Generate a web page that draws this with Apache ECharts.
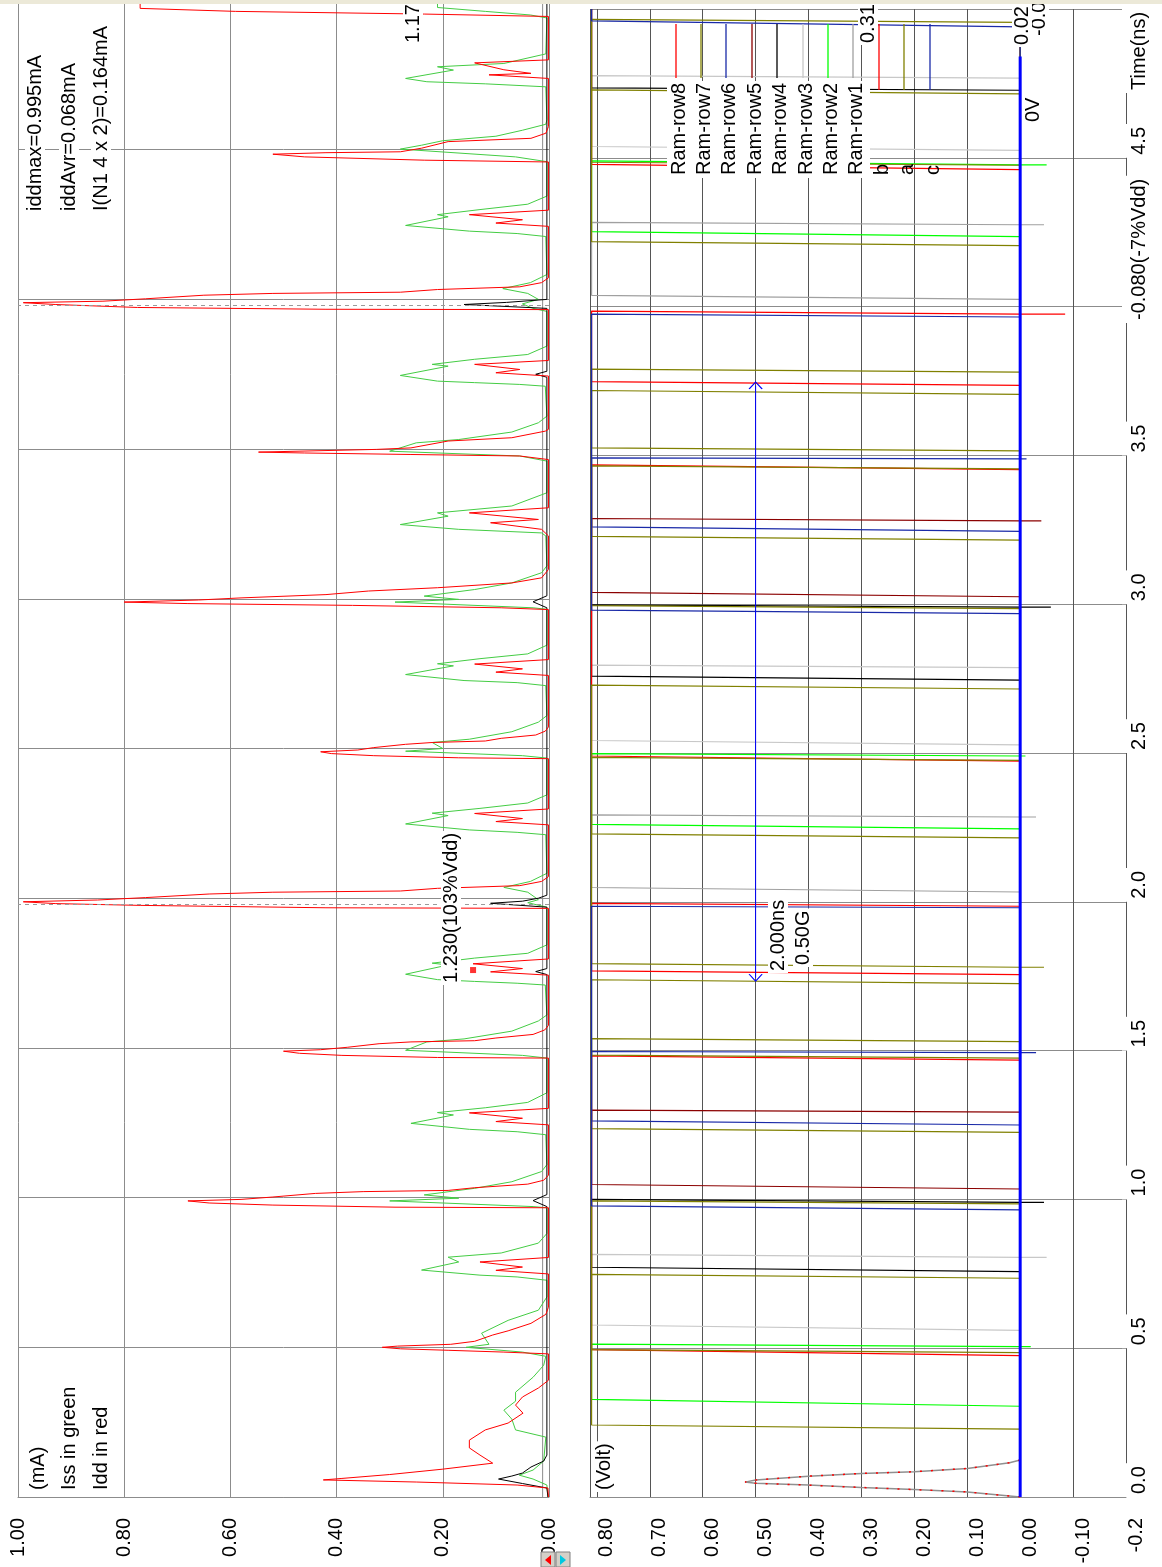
<!DOCTYPE html>
<html><head><meta charset="utf-8">
<script src="https://cdn.jsdelivr.net/npm/echarts@6/dist/echarts.min.js"></script>
<style>html,body{margin:0;padding:0;background:#fff}#c{width:1162px;height:1567px}</style>
</head><body><div id="c"></div>
<script>
// ================= DATA =================
const T_END = 5.0;
// current axis (mA)
const currentTicks = [0, 0.2, 0.4, 0.6, 0.8, 1.0];
const currentTickLabels = ['0.00', '0.20', '0.40', '0.60', '0.80', '1.00'];
// voltage axis (V)
const voltTicks = [-0.2, -0.1, 0, 0.1, 0.2, 0.3, 0.4, 0.5, 0.6, 0.7, 0.8];
const voltTickLabels = ['-0.2', '-0.10', '0.00', '0.10', '0.20', '0.30', '0.40', '0.50', '0.60', '0.70', '0.80'];
// time axis (ns)
const timeTicks = [0, 0.5, 1, 1.5, 2, 2.5, 3, 3.5, 4, 4.5];
const timeTickLabels = ['0.0', '0.5', '1.0', '1.5', '2.0', '2.5', '3.0', '3.5', '', '4.5'];

// Idd (red) [t ns, mA]
const idd = [
 [0,0.001],[0.03,0.002],[0.04,0.06],[0.05,0.25],[0.057,0.425],[0.062,0.39],[0.075,0.3],[0.093,0.2],[0.113,0.106],[0.14,0.13],[0.164,0.15],[0.19,0.15],[0.224,0.12],[0.247,0.077],[0.28,0.049],[0.307,0.063],[0.334,0.05],[0.364,0.02],[0.39,0.001],
 [0.478,0.001],[0.484,0.085],[0.49,0.19],[0.495,0.28],[0.5,0.314],[0.504,0.285],[0.51,0.185],[0.52,0.14],[0.541,0.106],[0.555,0.077],[0.58,0.034],[0.61,0.006],[0.634,0.001],
 [0.745,0.001],[0.757,0.1],[0.768,0.05],[0.785,0.13],[0.8,0.001],
 [0.966,0.001],[0.968,0.29],[0.975,0.52],[0.982,0.64],[0.989,0.68],[0.994,0.58],[1.002,0.52],[1.014,0.44],[1.02,0.35],[1.024,0.19],[1.033,0.14],[1.045,0.04],[1.058,0.01],[1.075,0.001],
 [1.243,0.001],[1.254,0.1],[1.265,0.05],[1.283,0.15],[1.298,0.001],
 [1.466,0.001],[1.468,0.21],[1.475,0.39],[1.482,0.47],[1.489,0.5],[1.494,0.43],[1.502,0.38],[1.514,0.32],[1.52,0.26],[1.524,0.14],[1.533,0.1],[1.545,0.03],[1.56,0.008],[1.575,0.001],
 [1.743,0.001],[1.754,0.11],[1.765,0.05],[1.781,0.143],[1.797,0.001],
 [1.966,0.001],[1.968,0.42],[1.976,0.77],[1.982,0.93],[1.988,0.99],[1.994,0.85],[2.002,0.76],[2.014,0.64],[2.02,0.52],[2.024,0.28],[2.033,0.21],[2.042,0.055],[2.056,0.014],[2.072,0.001],
 [2.245,0.001],[2.256,0.1],[2.266,0.05],[2.283,0.14],[2.298,0.001],
 [2.466,0.001],[2.469,0.17],[2.476,0.33],[2.483,0.41],[2.489,0.43],[2.495,0.36],[2.503,0.33],[2.514,0.27],[2.52,0.22],[2.525,0.12],[2.534,0.09],[2.545,0.025],[2.558,0.007],[2.572,0.001],
 [2.744,0.001],[2.755,0.1],[2.766,0.05],[2.782,0.14],[2.797,0.001],
 [2.964,0.001],[2.97,0.09],[2.978,0.37],[2.984,0.68],[2.989,0.8],[2.996,0.66],[3.003,0.58],[3.014,0.42],[3.026,0.34],[3.037,0.21],[3.053,0.07],[3.07,0.014],[3.098,0.001],
 [3.21,0.001],[3.232,0.014],[3.254,0.11],[3.265,0.02],[3.287,0.15],[3.304,0.001],
 [3.465,0.001],[3.477,0.055],[3.482,0.26],[3.487,0.46],[3.49,0.547],[3.499,0.325],[3.504,0.26],[3.527,0.19],[3.538,0.07],[3.56,0.007],[3.566,0.001],
 [3.744,0.001],[3.755,0.1],[3.766,0.055],[3.783,0.14],[3.796,0.001],
 [3.966,0.001],[3.967,0.42],[3.973,0.775],[3.983,0.93],[3.989,0.99],[3.994,0.84],[4.002,0.76],[4.014,0.65],[4.02,0.52],[4.024,0.28],[4.033,0.21],[4.042,0.055],[4.056,0.014],[4.072,0.001],
 [4.244,0.001],[4.255,0.1],[4.266,0.05],[4.283,0.15],[4.298,0.001],
 [4.459,0.001],[4.465,0.235],[4.476,0.46],[4.485,0.52],[4.49,0.42],[4.493,0.28],[4.505,0.24],[4.527,0.19],[4.538,0.034],[4.555,0.006],[4.577,0.001],
 [4.738,0.001],[4.75,0.113],[4.755,0.034],[4.767,0.085],[4.79,0.14],[4.8,0.001],
 [4.945,0.001],[4.953,0.235],[4.962,0.59],[4.972,0.77],[5.0,0.77]
];
// Iss (green) [t ns, mA]
const iss = [
 [0,0.002],[0.04,0.004],[0.06,0.03],[0.073,0.056],[0.09,0.03],[0.12,0.01],[0.2,0.006],[0.224,0.063],[0.26,0.07],[0.29,0.085],[0.32,0.063],[0.35,0.063],[0.4,0.03],[0.44,0.01],[0.47,0.006],
 [0.484,0.05],[0.5,0.156],[0.51,0.113],[0.547,0.127],[0.59,0.077],[0.624,0.02],[0.668,0.004],
 [0.724,0.004],[0.735,0.06],[0.741,0.13],[0.758,0.24],[0.785,0.17],[0.801,0.19],[0.815,0.09],[0.848,0.02],[0.88,0.004],
 [0.966,0.004],[0.97,0.03],[0.989,0.3],[0.998,0.17],[1.009,0.235],[1.031,0.14],[1.053,0.07],[1.087,0.014],[1.11,0.004],
 [1.21,0.006],[1.22,0.06],[1.228,0.15],[1.248,0.26],[1.276,0.18],[1.284,0.21],[1.3,0.12],[1.318,0.04],[1.35,0.004],
 [1.466,0.004],[1.475,0.05],[1.492,0.27],[1.52,0.23],[1.53,0.16],[1.556,0.07],[1.59,0.02],[1.61,0.004],
 [1.71,0.007],[1.716,0.06],[1.722,0.14],[1.728,0.21],[1.746,0.27],[1.777,0.19],[1.783,0.22],[1.8,0.14],[1.816,0.04],[1.844,0.004],
 [1.97,0.004],[1.985,0.04],[1.995,0.02],[2.0,0.02],[2.02,0.04],[2.036,0.085],[2.056,0.035],[2.083,0.004],
 [2.212,0.006],[2.22,0.06],[2.228,0.15],[2.248,0.27],[2.276,0.19],[2.284,0.22],[2.3,0.13],[2.318,0.04],[2.345,0.004],
 [2.468,0.004],[2.476,0.05],[2.491,0.27],[2.5,0.2],[2.52,0.22],[2.531,0.15],[2.556,0.07],[2.588,0.02],[2.61,0.004],
 [2.71,0.006],[2.72,0.06],[2.727,0.16],[2.747,0.27],[2.776,0.18],[2.783,0.21],[2.8,0.13],[2.816,0.04],[2.845,0.004],
 [2.965,0.004],[2.97,0.03],[2.989,0.29],[2.998,0.17],[3.009,0.235],[3.031,0.14],[3.053,0.07],[3.087,0.014],[3.11,0.004],
 [3.21,0.006],[3.22,0.014],[3.232,0.17],[3.248,0.28],[3.276,0.19],[3.287,0.21],[3.31,0.07],[3.354,0.004],
 [3.46,0.004],[3.477,0.055],[3.493,0.3],[3.521,0.25],[3.532,0.17],[3.557,0.07],[3.588,0.02],[3.61,0.004],
 [3.71,0.007],[3.716,0.055],[3.722,0.14],[3.727,0.21],[3.746,0.28],[3.777,0.19],[3.783,0.22],[3.8,0.14],[3.816,0.04],[3.844,0.004],
 [3.96,0.004],[3.97,0.03],[3.985,0.05],[4.0,0.02],[4.02,0.04],[4.036,0.087],[4.056,0.035],[4.083,0.004],
 [4.21,0.006],[4.22,0.06],[4.228,0.15],[4.247,0.27],[4.276,0.19],[4.283,0.21],[4.3,0.13],[4.318,0.04],[4.345,0.004],
 [4.46,0.004],[4.476,0.063],[4.502,0.28],[4.515,0.24],[4.53,0.2],[4.545,0.1],[4.565,0.05],[4.585,0.006],[4.6,0.004],
 [4.71,0.006],[4.72,0.12],[4.727,0.23],[4.738,0.27],[4.766,0.18],[4.777,0.21],[4.788,0.085],[4.82,0.006],
 [4.94,0.004],[4.95,0.035],[4.962,0.12],[4.975,0.21],[5.0,0.21]
];
// third current trace (black) [t ns, mA]
const iblk = [
 [0,0.002],[0.03,0.004],[0.045,0.05],[0.06,0.095],[0.07,0.07],[0.08,0.05],[0.1,0.034],[0.12,0.01],[0.14,0.004],
 [0.97,0.004],[0.99,0.03],[1.01,0.004],[1.745,0.004],[1.755,0.025],[1.765,0.004],
 [1.97,0.004],[1.983,0.11],[1.99,0.05],[2.0,0.02],[2.01,0.004],[2.97,0.004],[2.99,0.03],[3.01,0.004],
 [3.74,0.004],[3.75,0.025],[3.76,0.004],[3.97,0.004],[3.983,0.16],[3.99,0.08],[4.0,0.004],[5.0,0.004]
];
// gray reference trace [t ns, mA]
const igray = [[0,0.012],[5.0,0.012]];
// cursor marks
const cursorTimes = [1.983, 3.978];
const cursorPoint = [[1.76, 0.143]];      // [t, mA]
const measureSpan = [[1.745, 0.5], [3.735, 0.5]]; // [t, V]

// voltage signals: edges [t at 0V, t at high, optional glitch V]
const HIGH = 0.81;
const row2 = [[0.305,0.328],[0.505,0.514,-0.02],[2.245,2.26],[2.49,2.498,-0.01],[4.235,4.252],[4.476,4.49,-0.05]];
const row1 = [[2.033,2.048],[2.285,2.292,-0.03],[4.024,4.038],[4.275,4.283,-0.045]];
const row3 = [[0.56,0.578],[0.805,0.815,-0.05],[2.527,2.542],[2.787,2.795],[4.525,4.538],[4.768,4.776]];
const row4 = [[0.757,0.772],[0.99,1.0,-0.045],[2.745,2.758],[2.99,2.998,-0.058],[4.727,4.735]];
const row5 = [[1.035,1.05],[1.293,1.3],[3.025,3.04],[3.28,3.288,-0.04]];
const row6 = [[1.25,1.264],[1.493,1.497,-0.03],[3.245,3.26],[3.488,3.492,-0.012]];
const row8 = [[1.755,1.768],[1.985,1.995],[3.735,3.748],[3.975,3.985,-0.085]];
const row7 = [[0.485,0.495],[0.985,0.995],[1.475,1.485],[1.53,1.54],[1.78,1.792,-0.045],[2.475,2.485],[2.985,2.995],[3.455,3.465],[3.515,3.525],[3.78,3.79],[4.475,4.485],[4.955,4.965]];
const sigA = [[0.228,0.242],[0.735,0.748],[1.225,1.238],[1.725,1.738],[2.215,2.228],[2.715,2.728],[3.215,3.228],[3.705,3.718],[4.205,4.218],[4.715,4.728]];
const sigB = [[0.475,0.495],[1.468,1.482],[2.473,2.49],[3.452,3.468],[4.46,4.478]];
const sigC = [[0.965,0.978],[1.98,1.985],[2.968,2.98],[3.965,3.975],[4.94,4.96]];
// initial transient [V, t]
const initPulse = [[0,0],[0.1,0.017],[0.2,0.025],[0.3,0.032],[0.4,0.04],[0.5,0.046],[0.52,0.05],[0.5,0.057],[0.4,0.07],[0.3,0.079],[0.2,0.085],[0.1,0.096],[0.02,0.115],[0,0.124]];
const zeroRef = [[0,0],[0,4.84]];

// legend
const legendNames = ['Ram-row8','Ram-row7','Ram-row6','Ram-row5','Ram-row4','Ram-row3','Ram-row2','Ram-row1','b','a','c'];

// ================= STYLES / BUILD =================
const FONT = '20px "Liberation Sans", Arial, sans-serif';
const C = {red:'#ff0000', olive:'#808000', blue:'#1a2aa8', dred:'#8b0000', black:'#000000', lgray:'#c8c8c8', green:'#00ff00', gray:'#a0a0a0'};
const legendColors = [C.red, C.olive, C.blue, C.dred, C.black, C.lgray, C.green, C.gray, C.red, C.olive, C.blue];
const legendX = [676, 701, 726, 752, 777, 803, 828, 853, 879, 904, 930];

function lab(ticks, labels) {
  return v => { const i = ticks.findIndex(t => Math.abs(t - v) < 1e-6); return i < 0 ? '' : labels[i]; };
}
function wave(edges) {
  const pts = [[0, 0]];
  let high = false;
  edges.forEach(e => {
    const t0 = e[0], t1 = e[1], g = e[2];
    if (high) {
      pts.push([HIGH, t1], [0, t0]);
      if (g !== undefined) pts.push([g, t0], [0, t0]);
    } else {
      pts.push([0, t0]);
      if (g !== undefined) pts.push([g, t0], [0, t0]);
      pts.push([HIGH, t1]);
    }
    high = !high;
  });
  pts.push([high ? HIGH : 0, T_END]);
  return pts;
}
const flip = arr => arr.map(p => [p[1], p[0]]);

const signalDefs = [
  {name:'Ram-row2', color:C.green, edges:row2},
  {name:'Ram-row3', color:C.lgray, edges:row3},
  {name:'Ram-row5', color:C.dred, edges:row5},
  {name:'Ram-row4', color:C.black, edges:row4},
  {name:'Ram-row6', color:C.blue, edges:row6},
  {name:'Ram-row8', color:C.red, edges:row8},
  {name:'b', color:C.red, edges:sigB},
  {name:'Ram-row1', color:C.gray, edges:row1},
  {name:'a', color:C.olive, edges:sigA},
  {name:'Ram-row7', color:C.olive, edges:row7},
  {name:'c', color:C.blue, edges:sigC}
];

const series = [];
// ---- current panel ----
series.push({type:'line', name:'gray', xAxisIndex:0, yAxisIndex:0, data:flip(igray), showSymbol:false, silent:true,
  lineStyle:{color:'#8c8c8c', width:1},
  markLine:{silent:true, symbol:'none', label:{show:false}, lineStyle:{color:'#9a9a9a', type:[4,4], width:1},
    data: cursorTimes.map(t => ({yAxis:t}))}});
series.push({type:'line', name:'Iss', xAxisIndex:0, yAxisIndex:0, data:flip(iss), showSymbol:false, lineStyle:{color:'#44cc44', width:1}});
series.push({type:'line', name:'Iblk', xAxisIndex:0, yAxisIndex:0, data:flip(iblk), showSymbol:false, lineStyle:{color:'#000', width:1}});
series.push({type:'line', name:'Idd', xAxisIndex:0, yAxisIndex:0, data:flip(idd), showSymbol:false, lineStyle:{color:'#ff0000', width:1}});
series.push({type:'scatter', name:'cursor', xAxisIndex:0, yAxisIndex:0, data:flip(cursorPoint), symbol:'rect', symbolSize:6, itemStyle:{color:'#ff0000'}});
// ---- voltage panel ----
series.push({type:'line', name:'init', xAxisIndex:1, yAxisIndex:1, data:initPulse, showSymbol:false, lineStyle:{color:'#909090', width:1.5}});
series.push({type:'line', name:'init2', xAxisIndex:1, yAxisIndex:1, data:initPulse, showSymbol:false, lineStyle:{color:'#ff0000', width:1.5, type:[2,9]}});
signalDefs.forEach(s => series.push({type:'line', name:s.name, xAxisIndex:1, yAxisIndex:1, data:wave(s.edges), showSymbol:false, lineStyle:{color:s.color, width:1.2}}));
series.push({type:'line', name:'zero', xAxisIndex:1, yAxisIndex:1, data:zeroRef, showSymbol:false, lineStyle:{color:'#0000ff', width:3}});
series.push({type:'line', name:'measure', xAxisIndex:1, yAxisIndex:1,
  data:[{value:[measureSpan[0][1], measureSpan[0][0]], symbolRotate:180}, {value:[measureSpan[1][1], measureSpan[1][0]]}],
  symbol:'path://M0,10L10,0L20,10', symbolSize:[13,7], showSymbol:true,
  itemStyle:{color:'none', borderColor:'#0000ff', borderWidth:1}, lineStyle:{color:'#0000ff', width:1}});

// ---- graphic texts ----
function vtext(str, x, y, o) {
  o = o || {};
  return {type:'text', x:x, y:y, rotation:Math.PI/2, z:100, silent:true,
    style:{text:str, font:FONT, fill:'#000', textAlign:'left', textVerticalAlign:o.va || 'middle',
      backgroundColor:o.bg === false ? null : '#fff', padding:o.pad || [0,2,0,2]}};
}
const graphics = [];
graphics.push({type:'rect', shape:{x:667, y:81, width:203, height:97}, style:{fill:'#fff'}, z:90, silent:true});
legendNames.forEach((n, i) => {
  const x = legendX[i];
  graphics.push({type:'line', shape:{x1:x, y1:24, x2:x, y2:i < 8 ? 78 : 90}, style:{stroke:legendColors[i], lineWidth:1.3}, z:100, silent:true});
  graphics.push(vtext(n, x + 3, 177, {bg:false}));
});
graphics.push(vtext('iddmax=0.995mA', 35, 213));
graphics.push(vtext('iddAvr=0.068mA', 69, 213));
graphics.push(vtext('I(N1 4 x 2)=0.164mA', 101, 213));
graphics.push(vtext('(mA)', 38, 1492));
graphics.push(vtext('Iss in green', 69, 1492));
graphics.push(vtext('Idd in red', 101, 1492));
graphics.push(vtext('1.17', 413, 45));
graphics.push(vtext('1.230(103%Vdd)', 451, 985));
graphics.push(vtext('(Volt)', 604, 1492));
graphics.push(vtext('2.000ns', 778, 973));
graphics.push(vtext('0.50G', 803, 967));
graphics.push(vtext('0.31', 868, 45));
graphics.push(vtext('-0.00', 1039, 38));
graphics.push(vtext('0.02', 1022, 47));
graphics.push(vtext('0V', 1033, 124, {bg:false}));
graphics.push(vtext('Time(ns)', 1122, 93, {va:'top', pad:[7,3,0,3]}));
graphics.push(vtext('-0.080(-7%Vdd)', 1122, 323, {va:'top', pad:[7,3,0,3]}));
graphics.push({type:'rect', shape:{x:0, y:0, width:1162, height:4}, style:{fill:'#ece9d8'}, z:200, silent:true});
// small scroll buttons at bottom
graphics.push({type:'rect', shape:{x:541, y:1552, width:14, height:15}, style:{fill:'#d4d0c8', stroke:'#808080'}, z:100});
graphics.push({type:'rect', shape:{x:556, y:1552, width:14, height:15}, style:{fill:'#d4d0c8', stroke:'#808080'}, z:100});
graphics.push({type:'polygon', shape:{points:[[551,1555],[545,1560],[551,1565]]}, style:{fill:'#ff0000'}, z:101});
graphics.push({type:'polygon', shape:{points:[[560,1555],[566,1560],[560,1565]]}, style:{fill:'#00c8e0'}, z:101});

const axLabel = {fontSize:20, fontFamily:'"Liberation Sans", Arial, sans-serif', color:'#000'};

const option = {
  backgroundColor:'#fff',
  animation:false,
  grid:[
    {left:18, top:0, width:531, height:1497, containLabel:false},
    {left:590, top:0, width:536, height:1497, containLabel:false}
  ],
  xAxis:[
    {type:'value', gridIndex:0, min:0, max:1.0, interval:0.2, inverse:true, position:'bottom',
     axisLine:{show:true, lineStyle:{color:'#8c8c8c'}}, axisTick:{show:false},
     splitLine:{show:true, lineStyle:{color:'#8c8c8c', width:1}},
     axisLabel:Object.assign({rotate:90, margin:21, formatter:lab(currentTicks, currentTickLabels)}, axLabel)},
    {type:'value', gridIndex:1, min:-0.2, max:0.813, interval:0.1, inverse:true, position:'bottom',
     axisLine:{show:true, lineStyle:{color:'#8c8c8c'}}, axisTick:{show:false},
     splitLine:{show:true, lineStyle:{color:'#555555', width:1}},
     axisLabel:Object.assign({rotate:90, margin:21, verticalAlign:'top', formatter:lab(voltTicks, voltTickLabels)}, axLabel)}
  ],
  yAxis:[
    {type:'value', gridIndex:0, min:0, max:T_END, interval:0.5,
     axisLine:{show:false}, axisTick:{show:false}, axisLabel:{show:false},
     splitLine:{show:true, lineStyle:{color:'#8c8c8c', width:1}}},
    {type:'value', gridIndex:1, min:0, max:T_END, interval:0.5, position:'right',
     axisLine:{show:true, lineStyle:{color:'#404040', width:1}}, axisTick:{show:false},
     splitLine:{show:true, lineStyle:{color:'#8c8c8c', width:1}},
     axisLabel:Object.assign({rotate:90, margin:-4, align:'left', verticalAlign:'top', backgroundColor:'#fff', padding:[7,3,0,3],
       formatter:lab(timeTicks, timeTickLabels)}, axLabel)}
  ],
  series: series,
  graphic: graphics
};
const chart = echarts.init(document.getElementById('c'), null, {renderer:'canvas'});
chart.setOption(option);
</script>
</body></html>
